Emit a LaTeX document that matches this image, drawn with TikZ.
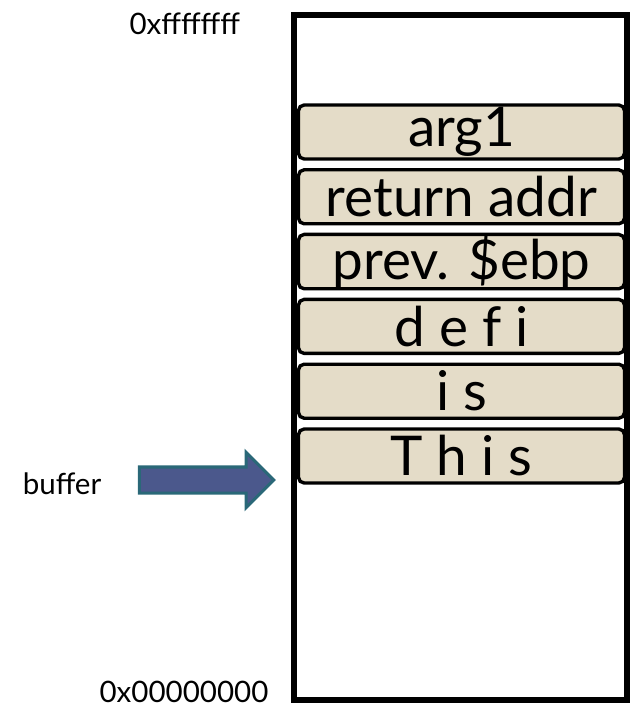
\documentclass[tikz,border=0pt]{standalone}
\usepackage{fontspec}
\setmainfont{Lato}
\usetikzlibrary{shapes.arrows}

\definecolor{slotfill}{RGB}{228,220,200}
\definecolor{arrfill}{RGB}{75,88,140}
\definecolor{arrline}{RGB}{42,104,120}

\begin{document}
\begin{tikzpicture}[every node/.style={inner sep=0pt},
  slot/.style={draw=black,line width=2.4pt,rounded corners=4pt,fill=slotfill,
               minimum width=8.15cm,minimum height=1.35cm,
               font=\fontsize{39}{40}\selectfont},
  addr/.style={font=\fontsize{21}{24}\selectfont},
  bufarrow/.style={single arrow,draw=arrline,fill=arrfill,line width=2.2pt,
               inner xsep=0pt,inner ysep=0.2875cm,minimum height=3.36cm,
               single arrow head extend=0.3625cm,single arrow tip angle=90}]
\useasboundingbox (0,0) rectangle (15.8,-17.75);
% the stack frame
\draw[line width=4.3pt] (7.35,-0.375) rectangle (15.675,-17.5);
\node[slot] (arg)  at (11.5375,-3.3)  {arg1};
\node[slot] (ret)  at (11.5375,-4.92) {return addr};
\node[slot] (ebp)  at (11.5375,-6.54) {prev. \$ebp};
\node[slot] (defi) at (11.5375,-8.16) {d e f i};
\node[slot] (is)   at (11.5375,-9.78) {i s};
\node[slot] (this) at (11.5375,-11.4) {T h i s};
% addresses
\node[addr] (top) at (4.62,-0.6)   {0xffffffff};
\node[addr] (bot) at (4.6,-17.3)   {0x00000000};
% buffer pointer
\node[addr] (buf) at (1.55,-12.1)  {buffer};
\node[bufarrow] (ptr) at (5.0,-12) {};
\end{tikzpicture}
\end{document}
